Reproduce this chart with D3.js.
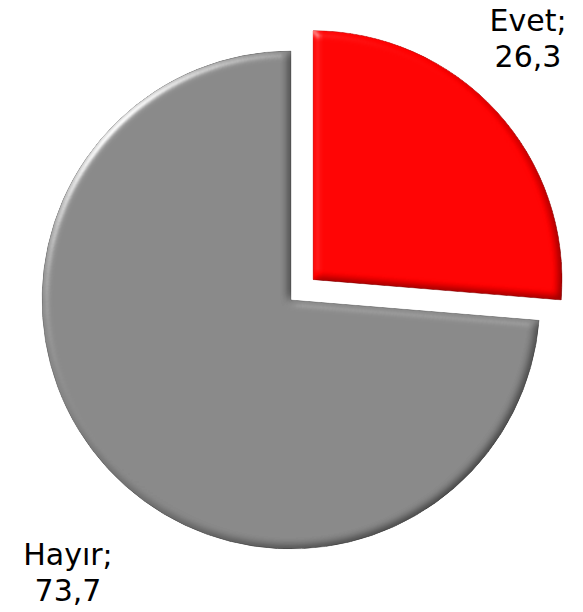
<!DOCTYPE html>
<html>
<head>
<meta charset="utf-8">
<script src="https://cdn.jsdelivr.net/npm/d3@7"></script>
<style>
  body { margin: 0; background: #fff; }
  svg { display: block; }
  .label { font-family: Verdana, "DejaVu Sans", sans-serif; font-size: 30px; fill: #000; }
</style>
</head>
<body>
<svg id="chartId" width="583" height="612"></svg>
<script>
// data
const categories = ["Evet", "Hayır"];
const values = [26.3, 73.7];
const valueLabels = ["26,3", "73,7"];
const colors = ["#ff0000", "#858585"];

const svg = d3.select("#chartId");

const cx = 291;
const cy = 300;
const radius = 249;
const explode = 30; // only first slice is pulled out

const data = categories.map((c, i) => ({ name: c, value: values[i], text: valueLabels[i], color: colors[i] }));

// bevel-ish filter so the slices look like the soft round excel style
const defs = svg.append("defs");
const f = defs.append("filter")
  .attr("id", "bevel")
  .attr("color-interpolation-filters", "sRGB")
  .attr("x", "-5%").attr("y", "-5%")
  .attr("width", "110%").attr("height", "110%");
f.append("feGaussianBlur").attr("in", "SourceAlpha").attr("stdDeviation", 4).attr("result", "blur");
f.append("feDiffuseLighting")
  .attr("in", "blur").attr("surfaceScale", 3).attr("diffuseConstant", 1.155)
  .attr("lighting-color", "#ffffff").attr("result", "diff")
  .append("feDistantLight").attr("azimuth", 225).attr("elevation", 60);
f.append("feComposite").attr("in", "diff").attr("in2", "SourceGraphic")
  .attr("operator", "arithmetic").attr("k1", 1).attr("result", "shaded");
f.append("feSpecularLighting")
  .attr("in", "blur").attr("surfaceScale", 3).attr("specularConstant", 0.45)
  .attr("specularExponent", 40).attr("lighting-color", "#ffffff").attr("result", "spec")
  .append("feDistantLight").attr("azimuth", 225).attr("elevation", 45);
f.append("feComposite").attr("in", "spec").attr("in2", "SourceAlpha")
  .attr("operator", "in").attr("result", "specIn");
f.append("feComposite").attr("in", "specIn").attr("in2", "shaded")
  .attr("operator", "arithmetic").attr("k2", 1).attr("k3", 1).attr("result", "lit");
f.append("feComposite").attr("in", "lit").attr("in2", "SourceAlpha").attr("operator", "in");

const pie = d3.pie().sort(null).value((d) => d.value);
const arc = d3.arc().innerRadius(0).outerRadius(radius);

const arcs = pie(data);

const g = svg.append("g").attr("transform", `translate(${cx}, ${cy})`);

g.selectAll("path")
  .data(arcs)
  .enter()
  .append("path")
  .attr("transform", (d, i) => {
    if (i !== 0) return null;
    const mid = (d.startAngle + d.endAngle) / 2;
    return `translate(${Math.sin(mid) * explode}, ${-Math.cos(mid) * explode})`;
  })
  .attr("d", arc)
  .attr("fill", (d) => d.data.color)
  .attr("stroke", (d) => d3.color(d.data.color).darker(0.8))
  .attr("stroke-width", 0.8)
  .attr("filter", "url(#bevel)");

// labels, placed outside like excel does
const labelPos = [
  { x: 528, y: 31 },
  { x: 68, y: 565 }
];

const labels = svg.selectAll(".label")
  .data(arcs)
  .enter()
  .append("text")
  .attr("class", "label")
  .attr("text-anchor", "middle");

labels.append("tspan")
  .attr("x", (d, i) => labelPos[i].x)
  .attr("y", (d, i) => labelPos[i].y)
  .text((d) => d.data.name + ";");

labels.append("tspan")
  .attr("x", (d, i) => labelPos[i].x)
  .attr("y", (d, i) => labelPos[i].y + 36)
  .text((d) => d.data.text);
</script>
</body>
</html>
